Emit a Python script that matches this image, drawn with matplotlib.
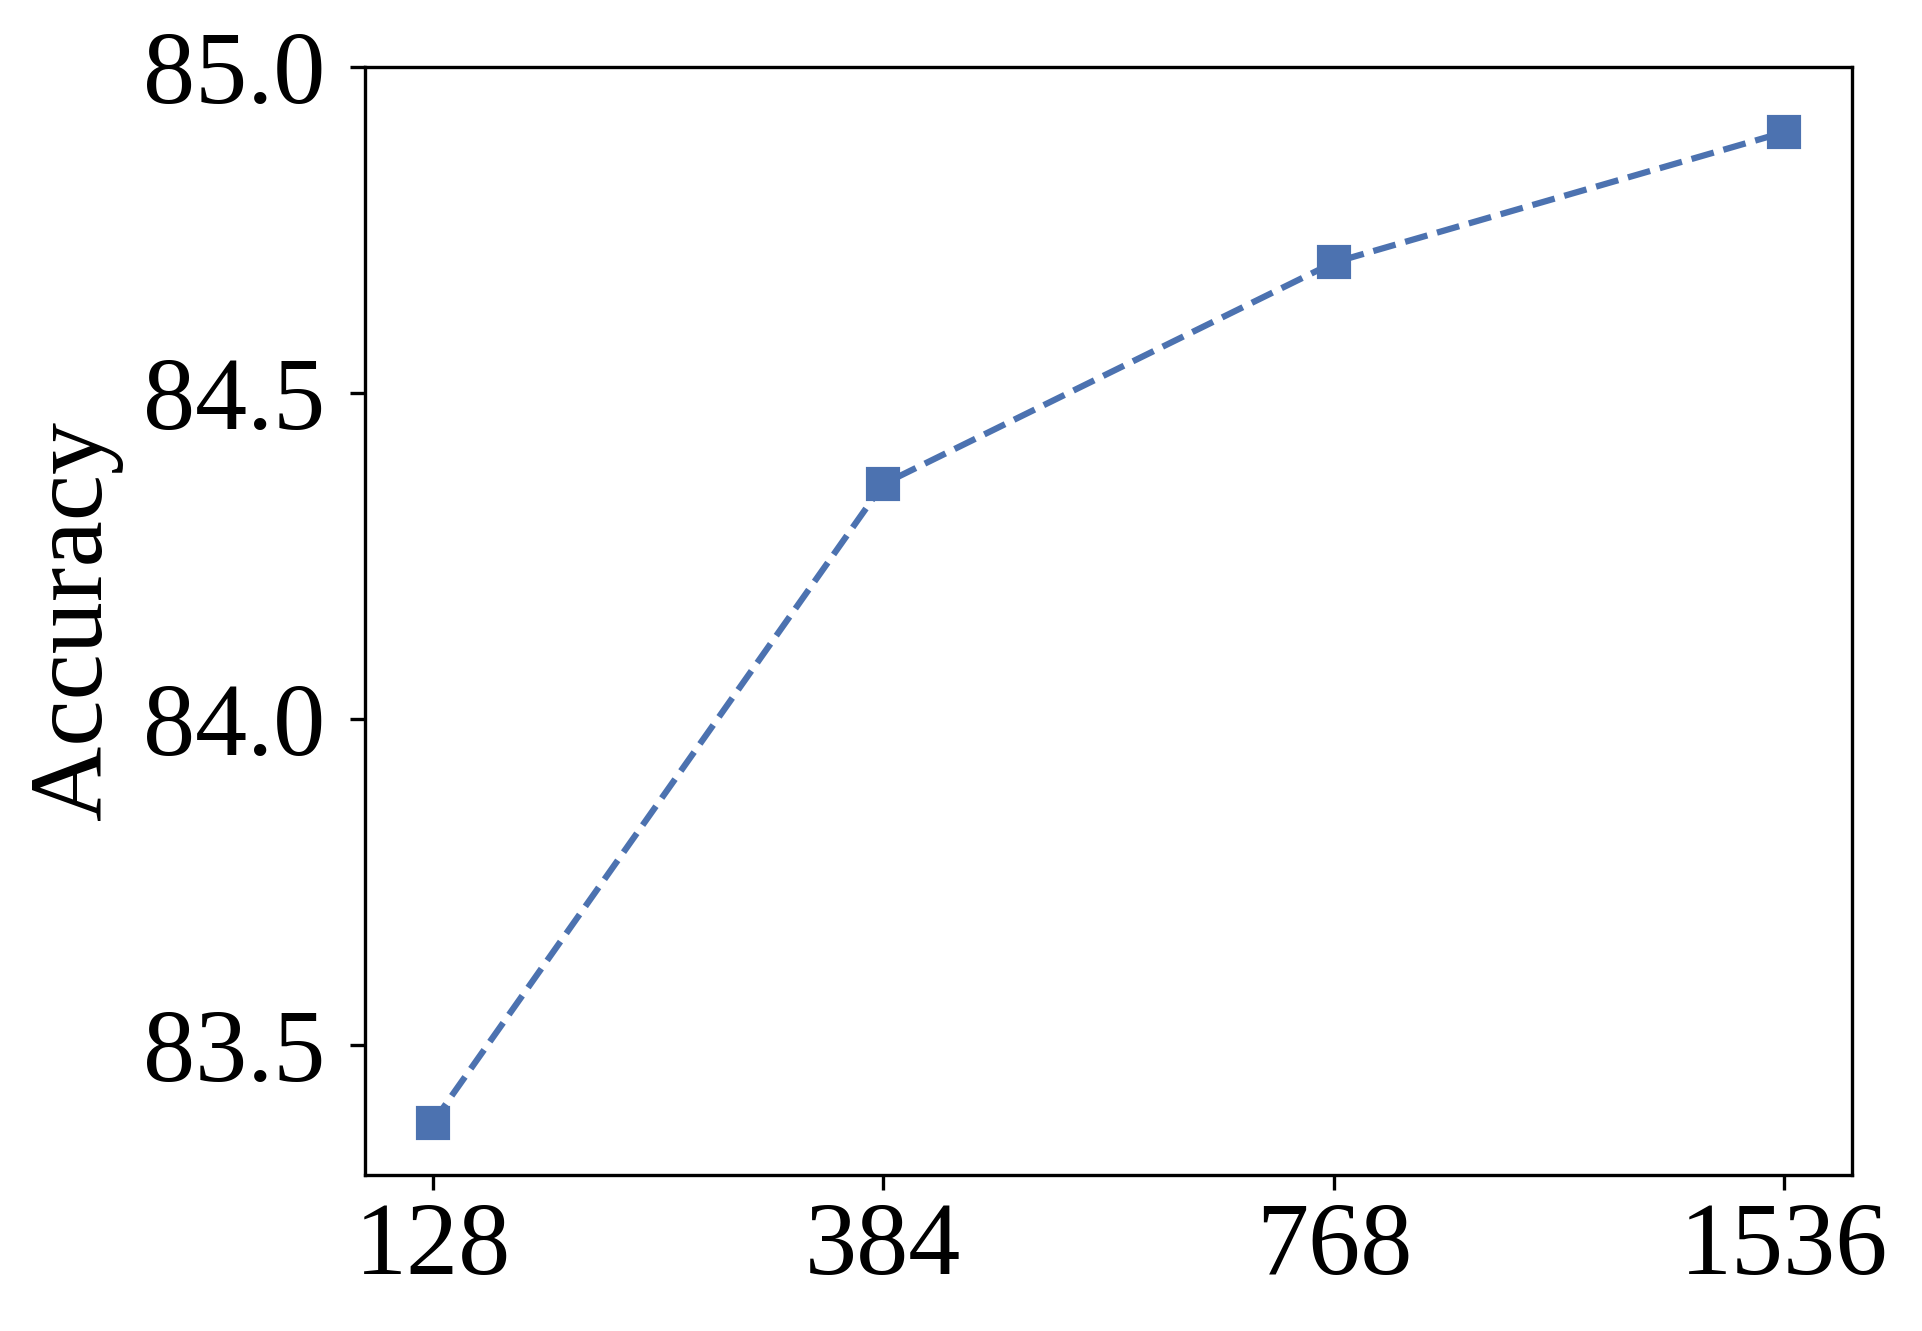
import matplotlib
matplotlib.use("Agg")
import matplotlib.pyplot as plt
from matplotlib import transforms as mtransforms

categories = ["128", "384", "768", "1536"]
accuracy = [83.38, 84.36, 84.70, 84.90]
yticks = [83.5, 84.0, 84.5, 85.0]
ylabel = "Accuracy"

FONT = 'Liberation Serif'
FS = 25

fig = plt.figure(figsize=(1922/300, 1331/300), dpi=300)
ax = fig.add_axes([0.1899, 0.1172, 0.9636 - 0.1899, 0.9497 - 0.1172])
x = list(range(len(categories)))
ax.plot(x, accuracy, linestyle='--', marker='s', color='#4C72B0',
        linewidth=1.5, markersize=7)
ax.set_xticks(x)
ax.set_yticks(yticks)
ax.set_xlim(-0.15, 3.15)
ax.set_ylim(83.30, 85.0)
ax.tick_params(labelbottom=False, labelleft=False)

# tick labels drawn as figure texts in the serif font
xoff = mtransforms.ScaledTranslation(0, -6.5/72, fig.dpi_scale_trans)
yoff = mtransforms.ScaledTranslation(-9.5/72, 0, fig.dpi_scale_trans)
for xi, lab in zip(x, categories):
    fig.text(xi, 0, lab, transform=ax.get_xaxis_transform() + xoff,
             ha='center', va='top', family=FONT, fontsize=FS)
for yv in yticks:
    fig.text(0, yv, f"{yv:.1f}", transform=ax.get_yaxis_transform() + yoff,
             ha='right', va='center_baseline', family=FONT, fontsize=FS)

fig.text(76/1922, 1 - 621/1331, ylabel, rotation=90, ha='center', va='center',
         family=FONT, fontsize=FS)
fig.savefig("out.png", dpi=300)
